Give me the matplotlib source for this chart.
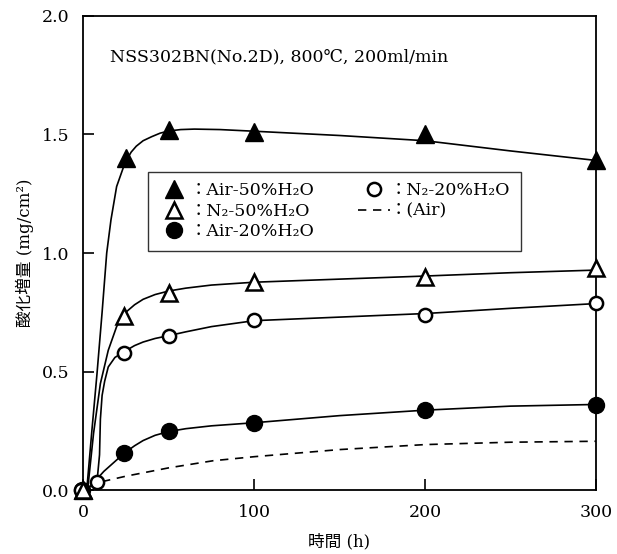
import matplotlib
matplotlib.use("Agg")
import matplotlib.pyplot as plt

plt.rcParams["font.family"] = ["DejaVu Serif", "Noto Sans CJK JP"]
plt.rcParams["font.size"] = 12

# measured points (time in h, mass gain in mg/cm2)
hours_a50 = [0, 25, 50, 100, 200, 300]
air50 = [0.0, 1.40, 1.52, 1.51, 1.50, 1.39]
hours_n50 = [0, 24, 50, 100, 200, 300]
n2_50 = [0.0, 0.735, 0.83, 0.877, 0.898, 0.937]
hours_n20 = [-1.5, 8, 24, 50, 100, 200, 300]
n2_20 = [0.0, 0.035, 0.58, 0.65, 0.718, 0.739, 0.791]
hours_a20 = [-1, 24, 50, 100, 200, 300]
air20 = [0.0, 0.157, 0.25, 0.285, 0.339, 0.358]

# fitted curves
fit_a50_x = [2, 5, 8, 11, 13.7, 16.2, 19.5, 24.4, 28, 31, 35, 40, 45, 50, 57, 65, 80, 100, 150, 200, 250, 300]
fit_a50_y = [0.0, 0.25, 0.49, 0.75, 1.0, 1.14, 1.28, 1.38, 1.425, 1.45, 1.473, 1.49, 1.505, 1.514, 1.52, 1.522, 1.52, 1.513, 1.495, 1.473, 1.43, 1.39]
fit_n50_x = [2.5, 6, 10, 14.6, 19.5, 24, 30, 35, 42, 50, 60, 75, 100, 150, 200, 250, 300]
fit_n50_y = [0.0, 0.24, 0.45, 0.59, 0.69, 0.745, 0.782, 0.805, 0.825, 0.84, 0.852, 0.865, 0.877, 0.89, 0.903, 0.917, 0.928]
fit_n20_x = [8, 9.5, 10, 11, 12.5, 14.6, 18.5, 24, 30, 35, 42, 50, 60, 75, 100, 150, 200, 250, 300]
fit_n20_y = [0.035, 0.15, 0.3, 0.4, 0.46, 0.52, 0.56, 0.585, 0.61, 0.625, 0.64, 0.652, 0.668, 0.69, 0.715, 0.73, 0.745, 0.767, 0.787]
fit_a20_x = [2, 12, 24, 30, 35, 42, 50, 60, 75, 100, 150, 200, 250, 300]
fit_a20_y = [0.0, 0.08, 0.157, 0.188, 0.21, 0.232, 0.248, 0.26, 0.272, 0.285, 0.315, 0.338, 0.355, 0.362]
air_x = [11, 25, 50, 76, 100, 150, 200, 250, 300]
air_y = [0.037, 0.06, 0.095, 0.125, 0.142, 0.172, 0.193, 0.203, 0.207]

fig = plt.figure(figsize=(6.17, 5.54), dpi=100)
ax = fig.add_axes([0.135, 0.1148, 0.831, 0.857])

lw = 1.2
ax.plot(fit_a50_x, fit_a50_y, color="black", lw=lw, zorder=2)
ax.plot(fit_n50_x, fit_n50_y, color="black", lw=lw, zorder=2)
ax.plot(fit_n20_x, fit_n20_y, color="black", lw=lw, zorder=2)
ax.plot(fit_a20_x, fit_a20_y, color="black", lw=lw, zorder=2)
h_air, = ax.plot(air_x, air_y, color="black", lw=lw, ls=(0, (5, 4)), zorder=2)

h_a50, = ax.plot(hours_a50, air50, ls="none", marker="^", ms=13, color="black",
                 clip_on=False, zorder=4)
h_a20, = ax.plot(hours_a20, air20, ls="none", marker="o", ms=11.5, color="black",
                 clip_on=False, zorder=4)
h_n20, = ax.plot(hours_n20, n2_20, ls="none", marker="o", ms=9.5, mfc="white",
                 mec="black", mew=1.8, clip_on=False, zorder=5)
h_n50, = ax.plot(hours_n50, n2_50, ls="none", marker="^", ms=11, mfc="white",
                 mec="black", mew=1.8, clip_on=False, zorder=6)

ax.set_xlim(0, 300)
ax.set_ylim(0, 2.0)
ax.set_xticks([0, 100, 200, 300])
ax.set_yticks([0, 0.5, 1.0, 1.5, 2.0])
ax.set_yticklabels(["0.0", "0.5", "1.0", "1.5", "2.0"])
ax.tick_params(direction="in", length=8, width=1.2, labelsize=12.5, pad=10,
               top=False, right=False)
for s in ax.spines.values():
    s.set_linewidth(1.3)

ax.text(15.6, 1.827, "NSS302BN(No.2D), 800℃, 200ml/min", fontsize=12.5,
        ha="left", va="center")

leg = ax.legend(
    [h_a50, h_n50, h_a20, h_n20, h_air],
    ["：Air-50%H₂O", "：N₂-50%H₂O", "：Air-20%H₂O", "：N₂-20%H₂O", "：(Air)"],
    ncol=2, loc="upper left", bbox_to_anchor=(0.127, 0.671), borderaxespad=0,
    fontsize=12.5, handlelength=1.8, handletextpad=0.0, columnspacing=2.5,
    labelspacing=0.2, borderpad=0.6, frameon=True, fancybox=False,
)
leg.get_frame().set_edgecolor("black")
leg.get_frame().set_linewidth(1.0)

fig.text(25 / 617, 1 - 253 / 554, "酸化増量 (mg/cm²)", rotation=90,
         ha="center", va="center", fontsize=12)
fig.text(339.5 / 617, 1 - 541.7 / 554, "時間 (h)", ha="center", va="center",
         fontsize=12)

fig.savefig("out.png", dpi=100)
